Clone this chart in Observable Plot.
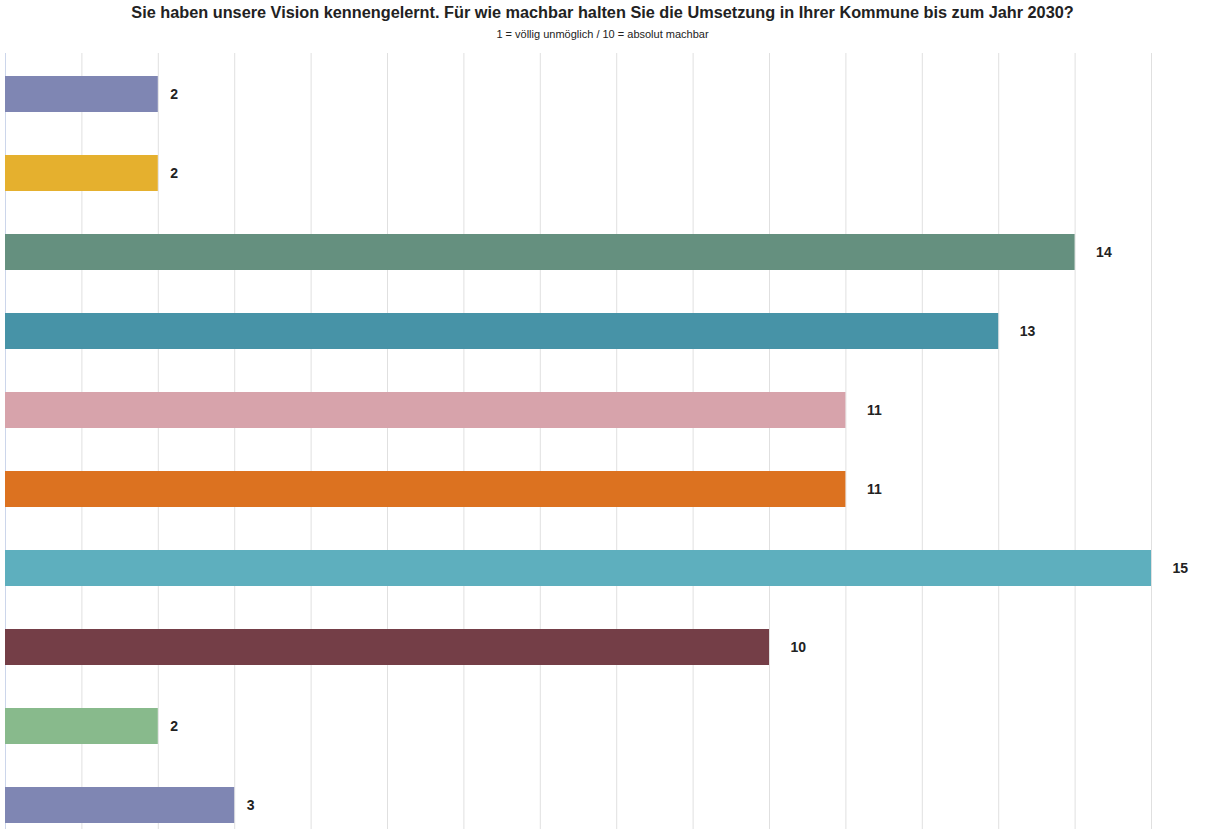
<!DOCTYPE html>
<html>
<head>
<meta charset="utf-8">
<script src="https://cdn.jsdelivr.net/npm/d3@7"></script>
<script src="https://cdn.jsdelivr.net/npm/@observablehq/plot@0.6"></script>
<style>
  html, body { margin: 0; padding: 0; background: #fff; overflow: hidden; }
  body { width: 1205px; font-family: "Liberation Sans", Arial, sans-serif; }
  #title { height: 25px; line-height: 25px; text-align: center; font-weight: bold; font-size: 16.3px; color: #222; }
  #subtitle { height: 19px; line-height: 19px; text-align: center; font-size: 11px; color: #222; }
</style>
</head>
<body>
<div id="title"></div>
<div id="subtitle"></div>
<div id="chart"></div>
<script>
const titleText = "Sie haben unsere Vision kennengelernt. Für wie machbar halten Sie die Umsetzung in Ihrer Kommune bis zum Jahr 2030?";
const subtitleText = "1 = völlig unmöglich / 10 = absolut machbar";
const categories = ["1", "2", "3", "4", "5", "6", "7", "8", "9", "10"];
const values = [2, 2, 14, 13, 11, 11, 15, 10, 2, 3];
const colors = ["#7f86b3", "#e5b02e", "#65907f", "#4793a7", "#d7a3ab", "#dc7220", "#5eafbe", "#743e47", "#88ba8c", "#7f86b3"];
const gridTicks = d3.range(0, 16);

document.getElementById("title").textContent = titleText;
document.getElementById("subtitle").textContent = subtitleText;

const data = categories.map((c, i) => ({category: c, value: values[i], color: colors[i]}));

const chart = Plot.plot({
  width: 1205,
  height: 801,
  marginTop: 9,
  marginBottom: 0,
  marginLeft: 5,
  marginRight: 54,
  style: {fontFamily: "'Liberation Sans', Arial, sans-serif", background: "#fff"},
  x: {domain: [0, 15], axis: null},
  y: {domain: categories, axis: null, paddingInner: 0.545, paddingOuter: 0.27},
  marks: [
    Plot.ruleX(gridTicks.filter(t => t > 0), {stroke: "#e0e0e0", strokeWidth: 1}),
    Plot.ruleX([0], {stroke: "#ccd6eb", strokeWidth: 1}),
    Plot.barX(data, {x: "value", y: "category", fill: "color"}),
    Plot.text(data.filter(d => d.value < 10), {x: "value", y: "category", text: d => String(d.value), textAnchor: "start", dx: 12, fontWeight: "bold", fontSize: 14, fill: "#222"}),
    Plot.text(data.filter(d => d.value >= 10), {x: "value", y: "category", text: d => String(d.value), textAnchor: "start", dx: 21, fontWeight: "bold", fontSize: 14, fill: "#222"})
  ]
});
document.getElementById("chart").appendChild(chart);
</script>
</body>
</html>
